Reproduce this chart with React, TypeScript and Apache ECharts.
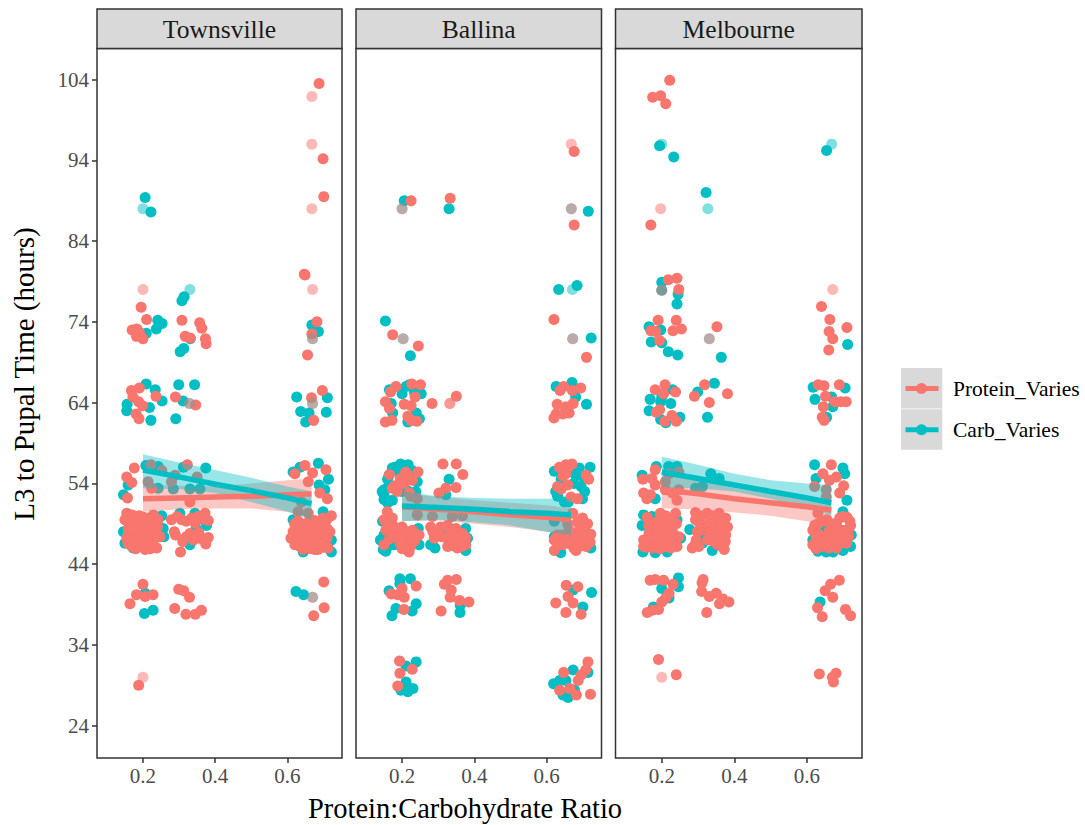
import React, { useEffect, useRef } from "react";
import * as echarts from "echarts";

type P = [number, number][];

const panelNames = ["Townsville", "Ballina", "Melbourne"];
const legendNames = ["Protein_Varies", "Carb_Varies"];
const yTicks = [24, 34, 44, 54, 64, 74, 84, 94, 104];
const xTicks = [0.2, 0.4, 0.6];
const fitX = [0.2, 0.3, 0.4, 0.5, 0.6, 0.667];

const townsvilleProtein: P = [
  [0.688,103.5],[0.699,94.2],[0.701,89.5],[0.649,79.8],[0.647,79.9],[0.195,75.8],[0.21,74.3],[0.308,74.2],[0.357,73.9],[0.363,73.2],[0.17,73],[0.183,73.1],[0.182,72.2],[0.2,71.9],[0.19,72.7],[0.317,72.2],[0.331,72],[0.373,71.9],[0.375,71.3],[0.682,74],[0.668,72.5],[0.656,69.9],
  [0.168,65.5],[0.19,65.8],[0.172,64.7],[0.188,64.1],[0.199,63.6],[0.236,64.8],[0.29,64.7],[0.346,63.7],[0.181,62.6],[0.189,62],[0.697,65.5],[0.667,64.6],[0.673,61.8],
  [0.176,55.9],[0.155,54.8],[0.169,54.1],[0.157,52.2],[0.323,56.3],[0.33,51.7],[0.649,56.2],[0.621,55.2],[0.67,55.3],[0.658,54.2],[0.707,55.7],[0.69,52.8],[0.711,52.1],[0.222,56.3],[0.252,55.6],[0.289,55],[0.279,54.2],[0.35,54.8],[0.214,54.2],[0.224,53.4],[0.639,51.7],[0.63,50.5],[0.658,50.3],
  [0.155,50.3],[0.15,49.5],[0.169,50.1],[0.201,49.8],[0.229,50.1],[0.242,49.5],[0.206,48.8],[0.159,48.4],[0.182,48.2],[0.224,48.4],[0.247,47.4],[0.164,47.4],[0.187,47.2],[0.219,47.2],[0.169,46.2],[0.206,45.8],[0.238,46],[0.192,46.4],[0.229,46.4],[0.215,48.2],[0.178,49.3],
  [0.165,49],[0.19,50],[0.215,49.7],[0.195,49],[0.222,49.2],[0.16,47.9],[0.172,48.5],[0.195,47.8],[0.205,47.5],[0.235,47.8],[0.24,48.6],[0.175,46.9],[0.2,46.7],[0.158,46.6],[0.18,45.9],[0.22,45.9],[0.212,46.8],[0.155,47.2],
  [0.279,49.5],[0.307,49.5],[0.335,49.7],[0.353,49.9],[0.372,50.3],[0.381,49.4],[0.287,48],[0.33,47.8],[0.349,47.4],[0.381,47.3],[0.31,46.8],[0.374,46.5],[0.304,45.5],
  [0.295,49.9],[0.32,49.3],[0.345,49.1],[0.365,49.6],[0.355,47.9],[0.363,47.1],[0.32,47.4],[0.29,47.6],[0.34,47],
  [0.63,49.3],[0.616,48],[0.644,48.8],[0.667,49],[0.699,49.7],[0.722,50],[0.709,49.5],[0.621,46.4],[0.653,46.4],[0.676,45.8],[0.718,48],[0.69,47.4],[0.658,47.4],[0.635,47.4],[0.69,46.2],[0.713,46],[0.644,45.8],[0.681,48.2],[0.653,48.4],[0.625,48.2],
  [0.62,49],[0.635,48.7],[0.655,49.1],[0.675,49.4],[0.69,49],[0.7,48.6],[0.71,48.4],[0.665,48],[0.64,47.9],[0.62,47.5],[0.67,47],[0.7,47.6],[0.71,47.2],[0.625,46.8],[0.635,46.2],[0.66,46.6],[0.665,45.9],[0.68,46.8],[0.7,46.1],[0.655,47.8],[0.61,47.2],[0.685,45.8],
  [0.2,41.5],[0.182,40.2],[0.206,40],[0.228,40.2],[0.164,39.1],[0.299,40.9],[0.313,40.7],[0.329,39.9],[0.288,38.5],[0.319,37.8],[0.345,37.8],[0.362,38.3],[0.701,41.8],[0.702,38.6],[0.673,37.6],[0.188,29],
];
const townsvilleCarb: P = [
  [0.206,89.4],[0.222,87.6],[0.314,77.1],[0.308,76.6],[0.241,74.2],[0.253,73.8],[0.237,73.1],[0.209,72.6],[0.331,71.9],[0.313,70.7],[0.303,70.3],[0.668,73.6],[0.686,72.8],
  [0.209,66.3],[0.234,65.6],[0.253,64.2],[0.218,63.4],[0.156,63.8],[0.155,63],[0.222,61.8],[0.299,66.2],[0.343,66.2],[0.311,64.2],[0.291,62],[0.626,64.7],[0.711,64.6],[0.708,62.8],[0.637,62.9],[0.66,62.7],[0.651,61.6],
  [0.146,52.6],[0.159,53.8],[0.242,56.1],[0.374,55.9],[0.312,56],[0.284,53.3],[0.33,53.3],[0.358,53.3],[0.686,56.5],[0.635,56],[0.616,55.4],[0.714,54.5],[0.688,53.8],[0.704,53.2],[0.208,56.2],[0.242,53.4],
  [0.252,50],[0.146,48],[0.256,48.4],[0.173,46],[0.15,46.6],[0.258,47.4],[0.302,50.3],[0.344,50.3],[0.376,48.8],[0.347,48.4],[0.33,46.4],[0.699,50.5],[0.616,49.5],[0.722,47],[0.722,45.5],[0.644,45.5],[0.681,48.8],
  [0.206,40.4],[0.204,37.9],[0.228,38.3],[0.624,40.6],[0.645,40.2],
];
const townsvilleProteinFaint: P = [[0.668,101.9],[0.668,96],[0.668,88],[0.2,78],[0.67,78],[0.67,71.9],[0.329,63.9],[0.67,63.9],[0.67,39.9],[0.2,30]];
const townsvilleCarbFaint: P = [[0.2,88],[0.33,78],[0.67,71.9],[0.329,63.9],[0.67,63.9],[0.67,39.9]];

const ballinaProtein: P = [
  [0.225,89],[0.333,89.3],[0.676,95.1],[0.676,86],[0.174,72.4],[0.245,71],[0.62,74.3],[0.71,69.6],
  [0.183,66],[0.168,65.3],[0.227,66.3],[0.251,66.2],[0.236,64.7],[0.154,64.1],[0.165,63.3],[0.206,63.8],[0.225,63.6],[0.216,62.3],[0.225,61.8],[0.241,61.7],[0.154,61.6],[0.172,61.8],[0.283,63.9],[0.35,64.8],
  [0.647,66],[0.637,65.5],[0.671,65.5],[0.694,65.8],[0.673,63.9],[0.629,63.8],[0.653,63.5],[0.662,62.7],[0.645,62.6],[0.626,62.6],[0.62,62.1],
  [0.165,55.1],[0.244,55.4],[0.215,55],[0.228,54.4],[0.206,54],[0.173,53.4],[0.187,53],[0.224,52.4],[0.242,52.1],[0.242,50.1],[0.284,49.9],[0.339,49.9],[0.367,50],
  [0.195,54.6],[0.18,53.7],[0.21,55.4],[0.22,52.8],[0.66,56],[0.645,54.9],[0.64,53.3],
  [0.313,56.4],[0.35,56.4],[0.368,55.1],[0.349,53.5],[0.321,53.4],[0.302,52.8],[0.653,56.3],[0.67,56.4],[0.635,56],[0.653,55.2],[0.658,53.8],[0.63,53.6],[0.667,52.3],[0.685,52.1],[0.709,55],[0.716,54.5],
  [0.159,50.5],[0.15,49.5],[0.173,49.7],[0.155,48.2],[0.169,47.8],[0.15,46.4],[0.192,48.2],[0.215,48],[0.233,47.6],[0.247,47.6],[0.2,47.2],[0.219,47],[0.206,46.4],[0.224,46.2],[0.219,45.5],[0.229,48.2],[0.187,47.2],
  [0.16,49],[0.175,48.8],[0.2,48.6],[0.21,47.6],[0.225,47.5],[0.195,46.6],[0.21,45.9],[0.2,45.9],[0.235,46.9],[0.175,47.5],[0.165,47.1],
  [0.279,48.6],[0.307,48.6],[0.326,48.8],[0.349,48.4],[0.289,47.2],[0.367,47.8],[0.376,47.2],[0.33,47],[0.326,46.2],[0.353,46],[0.376,46.4],[0.358,47],
  [0.295,47.9],[0.335,48],[0.31,47.4],[0.345,47.2],[0.355,46.6],[0.34,46.3],[0.365,46.2],[0.295,47.6],[0.285,48],
  [0.699,49.7],[0.713,49],[0.722,47.7],[0.69,48.2],[0.662,48.2],[0.644,47.6],[0.621,47],[0.653,47.2],[0.621,45.7],[0.644,46.4],[0.681,45.7],[0.709,46.2],[0.699,46.6],[0.672,50.3],[0.658,49],
  [0.63,47.6],[0.64,47],[0.665,47.6],[0.68,47.3],[0.7,47.5],[0.71,47.2],[0.63,46.3],[0.66,46.6],[0.69,46.2],[0.72,46.7],[0.705,48.4],[0.685,49.2],[0.675,46],
  [0.2,41],[0.239,41.3],[0.17,40.3],[0.188,40.2],[0.206,39.9],[0.205,38.4],[0.326,42],[0.35,42.1],[0.317,41.5],[0.336,40.8],[0.333,39.9],[0.359,39.5],[0.385,39.3],[0.308,38.2],[0.654,41.4],[0.686,41.2],[0.659,40],[0.673,39.2],[0.625,39.2],[0.653,38],[0.695,37.8],
  [0.193,32],[0.228,31],[0.194,30.5],[0.188,28.9],[0.714,31.9],[0.708,30.9],[0.696,30.3],[0.687,29.6],[0.647,30.6],[0.664,28.6],[0.636,28.4],[0.682,27.8],[0.721,27.9],
];
const ballinaCarb: P = [
  [0.206,89],[0.33,88],[0.715,87.7],[0.154,74.1],[0.223,69.8],[0.633,78],[0.684,78.5],[0.723,72],
  [0.165,65.6],[0.211,66],[0.2,65.1],[0.253,65.1],[0.17,63.9],[0.174,62.7],[0.239,62.7],[0.248,62],[0.216,61.6],[0.22,66.2],[0.234,65.3],[0.626,66],[0.67,66.5],[0.68,64.7],[0.71,63.8],
  [0.196,56.4],[0.173,55.9],[0.217,56.3],[0.164,55],[0.15,53.2],[0.15,52.6],[0.173,51.9],[0.242,54.2],[0.191,55.4],[0.228,55.6],[0.238,53],[0.164,53.8],[0.33,54.5],[0.321,52.6],
  [0.16,54.5],[0.18,56],[0.205,55.9],[0.2,53],[0.215,53.1],[0.15,52],[0.16,51.6],[0.145,53],
  [0.72,56],[0.621,55.5],[0.69,55.9],[0.695,53.6],[0.625,53],[0.699,52.1],[0.649,51.7],[0.621,49.3],
  [0.665,55.5],[0.68,55],[0.675,54],[0.7,54.8],[0.705,53],[0.64,54.5],[0.63,52.4],[0.66,51.7],
  [0.146,49.3],[0.15,47.6],[0.148,45.8],[0.178,46.4],[0.247,46.4],[0.192,47.8],[0.279,46.4],[0.291,46],[0.376,48.4],[0.381,47.2],[0.376,45.7],[0.321,47.6],[0.722,46],[0.639,45.4],[0.699,46.8],[0.672,46.8],[0.621,47.4],
  [0.14,47],[0.245,48.4],[0.16,46.2],[0.155,45.6],
  [0.194,42.2],[0.223,42.2],[0.164,40.7],[0.239,39.1],[0.228,38.2],[0.183,38.5],[0.172,37.6],[0.361,38.9],[0.36,38],[0.724,40.5],[0.7,38.7],[0.673,40.8],[0.194,41.6],
  [0.239,31.9],[0.211,31.4],[0.211,29.4],[0.23,28.6],[0.216,28.2],[0.197,28.4],[0.673,30.9],[0.714,30.6],[0.636,29.6],[0.619,29.2],[0.653,29.6],[0.677,28.4],[0.645,27.8],[0.659,27.5],
];
const ballinaProteinFaint: P = [[0.668,96],[0.2,88],[0.668,88],[0.203,71.9],[0.672,71.9],[0.332,63.9],[0.332,63.9]];
const ballinaCarbFaint: P = [[0.2,88],[0.668,88],[0.671,78],[0.203,71.9],[0.672,71.9]];

const melbourneProtein: P = [
  [0.222,103.9],[0.175,101.8],[0.197,102],[0.211,101],[0.17,86],[0.218,79.2],[0.242,79.4],[0.247,78],[0.2,77.9],
  [0.19,74.2],[0.24,74.2],[0.254,73.1],[0.231,72.9],[0.17,72.9],[0.183,72.8],[0.194,71.7],[0.352,73.4],[0.64,75.9],[0.663,74.3],[0.71,73.3],[0.661,72.8],[0.671,71.9],[0.66,70.5],
  [0.182,65.6],[0.209,66.2],[0.205,65.1],[0.238,65.3],[0.185,62.8],[0.194,63.1],[0.209,61.7],[0.228,62.4],[0.24,61.7],[0.318,66.2],[0.29,64.8],[0.381,65.1],[0.331,64],
  [0.631,66.2],[0.647,66.1],[0.689,66.2],[0.651,64.8],[0.645,63.5],[0.677,64.1],[0.693,64.1],[0.708,64.1],[0.642,62.2],[0.647,61.8],
  [0.182,55.7],[0.148,54.5],[0.173,54.6],[0.182,53.8],[0.15,52.8],[0.169,52.6],[0.159,52.1],[0.21,53.2],[0.229,52.8],[0.242,51.9],[0.219,55.2],[0.247,55.4],[0.21,54.2],[0.247,53.2],
  [0.667,56.3],[0.644,55.2],[0.681,54.8],[0.662,54.4],[0.701,53.7],[0.621,53.6],[0.69,52.8],[0.653,53.2],[0.653,52.3],
  [0.196,50.3],[0.238,50.3],[0.215,49.5],[0.164,48.8],[0.182,48.2],[0.206,48.8],[0.229,48.6],[0.247,47.4],[0.215,47.4],[0.169,47.2],[0.15,47],[0.15,46.2],[0.182,46.4],[0.21,46.2],[0.242,46.2],[0.229,48],
  [0.16,49.8],[0.175,49],[0.19,49.3],[0.21,50],[0.23,49.6],[0.2,47.8],[0.165,47.8],[0.18,47.5],[0.2,47],[0.225,47],[0.235,47.5],[0.16,46.1],[0.175,46],[0.195,45.9],[0.225,46],[0.215,48.7],[0.24,49],
  [0.293,50.4],[0.325,50.3],[0.358,50.3],[0.376,49.7],[0.293,49.5],[0.321,48.8],[0.349,49],[0.381,48.6],[0.298,48],[0.349,47.8],[0.376,47.6],[0.367,47],[0.326,47],[0.372,45.8],[0.302,46.2],[0.284,46],[0.353,46.4],
  [0.31,50],[0.34,50],[0.305,49],[0.335,49.3],[0.365,49.2],[0.33,48.4],[0.36,48.3],[0.31,48.2],[0.335,47.6],[0.355,47.1],[0.375,46.8],[0.36,46.3],[0.295,47],[0.365,48],[0.345,46.8],[0.29,46.3],
  [0.699,49.9],[0.718,49.3],[0.681,49],[0.644,49.3],[0.621,48.8],[0.616,48.2],[0.625,47.4],[0.616,46.4],[0.662,48.2],[0.699,48.2],[0.713,48.2],[0.653,47],[0.69,46.6],[0.709,46.6],[0.681,46],[0.63,50.3],
  [0.63,49],[0.655,49.5],[0.67,49],[0.69,49.7],[0.71,49.8],[0.63,47.8],[0.645,47.4],[0.67,47.7],[0.685,48],[0.635,46.9],[0.64,46.2],[0.665,46.8],[0.68,47],[0.7,47],[0.66,46],[0.625,45.9],[0.715,47.4],[0.72,48.8],
  [0.168,42],[0.182,42.1],[0.205,42],[0.231,41.5],[0.22,40.4],[0.211,39.8],[0.2,39.3],[0.191,38.4],[0.174,38.3],[0.16,38],[0.314,42.1],[0.311,41.7],[0.31,40.6],[0.331,40],[0.35,40.4],[0.359,39.1],[0.368,39.7],[0.385,39.3],[0.324,38],
  [0.689,42],[0.665,41.5],[0.65,40.7],[0.671,39.9],[0.629,38.6],[0.642,37.5],[0.706,38.4],[0.72,37.6],
  [0.191,32.2],[0.24,30.3],[0.634,30.4],[0.68,30.5],[0.67,30],[0.673,29.4],
];
const melbourneCarb: P = [
  [0.194,95.8],[0.233,94.4],[0.322,90],[0.654,95.2],[0.2,78.9],[0.245,77.4],[0.242,76.2],
  [0.165,73.4],[0.197,73],[0.171,71.5],[0.2,71.4],[0.218,70.3],[0.244,69.9],[0.364,69.6],[0.712,71.2],
  [0.23,65.6],[0.168,64.4],[0.197,64.1],[0.225,63.9],[0.165,63],[0.197,61.9],[0.25,62.2],[0.211,61.5],[0.345,66.4],[0.299,65.3],[0.326,62.2],[0.2,64.7],
  [0.617,65.9],[0.705,65.8],[0.622,64.4],[0.671,63.5],[0.654,62.2],[0.668,64.7],
  [0.185,56.1],[0.146,55],[0.219,56.1],[0.242,56.1],[0.335,55.2],[0.358,54.6],[0.312,53.6],[0.293,53.4],[0.182,52.1],
  [0.621,56.3],[0.699,55.9],[0.704,55.2],[0.625,54.6],[0.71,51.9],
  [0.15,50.1],[0.146,48.8],[0.173,49.9],[0.148,45.5],[0.182,45.4],[0.215,45.5],[0.252,47.2],[0.242,49.5],[0.277,48.3],[0.307,47.4],[0.339,45.7],[0.312,46.6],
  [0.616,47],[0.722,47.6],[0.653,45.5],[0.672,45.5],[0.699,45.7],[0.644,48.4],[0.699,50.5],[0.72,46.2],[0.63,45.6],
  [0.246,42.3],[0.246,41.2],[0.2,41],[0.177,38.7],[0.22,39.8],[0.636,39.3],
];
const melbourneProteinFaint: P = [[0.197,88],[0.671,78],[0.331,71.9],[0.2,30]];
const melbourneCarbFaint: P = [[0.2,96],[0.327,88],[0.668,96],[0.331,71.9],[0.2,77.9]];

const townsvilleProteinFit = [52.1, 52.2, 52.3, 52.4, 52.6, 52.7];
const townsvilleProteinLow = [50.5, 50.8, 50.9, 50.9, 50.5, 49.9];
const townsvilleProteinHigh = [53.8, 53.7, 53.6, 54, 54.4, 54.6];
const townsvilleCarbFit = [55.65, 54.8, 53.9, 53.1, 52.2, 51.5];
const townsvilleCarbLow = [53.4, 53.3, 52.8, 51.7, 50.5, 49.5];
const townsvilleCarbHigh = [57.6, 56.6, 55.65, 54.7, 53.6, 53];

const ballinaProteinFit = [51.1, 50.8, 50.5, 50.1, 49.8, 49.5];
const ballinaProteinLow = [49.3, 49.4, 49, 48.6, 48, 47.6];
const ballinaProteinHigh = [52.8, 52.3, 51.9, 51.6, 51.3, 50.9];
const ballinaCarbFit = [51.2, 51, 50.8, 50.5, 50.3, 50.1];
const ballinaCarbLow = [49.3, 49.5, 49.2, 48.8, 48, 47.6];
const ballinaCarbHigh = [53, 52.4, 52.2, 52.1, 52.1, 52.1];

const melbourneProteinFit = [53.2, 52.7, 52.1, 51.6, 51.1, 50.7];
const melbourneProteinLow = [50.9, 50.8, 50.4, 50, 49.3, 48.6];
const melbourneProteinHigh = [55, 54.4, 53.4, 52.8, 52.1, 51.7];
const melbourneCarbFit = [55.4, 54.6, 53.8, 53, 52.2, 51.6];
const melbourneCarbLow = [53.4, 53.4, 53, 52.1, 50.9, 50.1];
const melbourneCarbHigh = [57.3, 56.3, 55.2, 54.4, 54, 53.8];

const RED = "#F8766D";
const TEAL = "#00BFC4";
const FONT = "'Liberation Serif', serif";

const panels = [
  { left: 97, width: 245, pts: [townsvilleCarb, townsvilleProtein, townsvilleCarbFaint, townsvilleProteinFaint], pf: townsvilleProteinFit, pl: townsvilleProteinLow, ph: townsvilleProteinHigh, cf: townsvilleCarbFit, cl: townsvilleCarbLow, ch: townsvilleCarbHigh },
  { left: 356, width: 245.5, pts: [ballinaCarb, ballinaProtein, ballinaCarbFaint, ballinaProteinFaint], pf: ballinaProteinFit, pl: ballinaProteinLow, ph: ballinaProteinHigh, cf: ballinaCarbFit, cl: ballinaCarbLow, ch: ballinaCarbHigh },
  { left: 615.5, width: 246.5, pts: [melbourneCarb, melbourneProtein, melbourneCarbFaint, melbourneProteinFaint], pf: melbourneProteinFit, pl: melbourneProteinLow, ph: melbourneProteinHigh, cf: melbourneCarbFit, cl: melbourneCarbLow, ch: melbourneCarbHigh },
];

function ribbon(i: number, low: number[], high: number[], fill: string, z: number) {
  return {
    type: "custom", xAxisIndex: i, yAxisIndex: i, z, silent: true,
    data: fitX.map((x, k) => [x, low[k], high[k]]),
    encode: { x: 0, y: [1, 2] },
    renderItem: (params: any, api: any) => {
      if (params.dataIndex !== 0) return null;
      const up = fitX.map((x, k) => api.coord([x, high[k]]));
      const down = fitX.map((x, k) => api.coord([x, low[k]])).reverse();
      return { type: "polygon", shape: { points: [...up, ...down] }, style: { fill } };
    },
  };
}

function fitLine(i: number, fit: number[], color: string, z: number) {
  return {
    type: "line", xAxisIndex: i, yAxisIndex: i, z, silent: true, showSymbol: false,
    data: fitX.map((x, k) => [x, fit[k]]),
    lineStyle: { color, width: 5.5, cap: "butt" },
  };
}

function dots(i: number, data: P, color: string, opacity: number, z: number) {
  return {
    type: "scatter", xAxisIndex: i, yAxisIndex: i, z, silent: true, symbolSize: 11,
    data, itemStyle: { color, opacity },
  };
}

export default function App() {
  const ref = useRef<HTMLDivElement>(null);
  useEffect(() => {
    const chart = echarts.init(ref.current!, undefined, { renderer: "svg" });
    const series: any[] = [];
    panels.forEach((p, i) => {
      series.push(dots(i, p.pts[0], TEAL, 1, 2));
      series.push(dots(i, p.pts[1], RED, 1, 3));
      series.push(dots(i, p.pts[2], TEAL, 0.5, 4));
      series.push(dots(i, p.pts[3], RED, 0.5, 5));
      series.push(ribbon(i, p.pl, p.ph, "rgba(248,118,109,0.4)", 6));
      series.push(ribbon(i, p.cl, p.ch, "rgba(0,191,196,0.4)", 7));
      series.push(fitLine(i, p.pf, RED, 8));
      series.push(fitLine(i, p.cf, TEAL, 9));
    });
    const graphic: any[] = [];
    panels.forEach((p, i) => {
      graphic.push({ type: "rect", shape: { x: p.left, y: 9, width: p.width, height: 39.5 }, style: { fill: "#D9D9D9", stroke: "#333333", lineWidth: 1.5 } });
      graphic.push({ type: "text", x: p.left + p.width / 2, y: 29, style: { text: panelNames[i], font: `25.6px ${FONT}`, fill: "#1A1A1A", textAlign: "center", textVerticalAlign: "middle" } });
    });
    graphic.push({ type: "text", x: 465, y: 808, style: { text: "Protein:Carbohydrate Ratio", font: `28.5px ${FONT}`, fill: "#000", textAlign: "center", textVerticalAlign: "middle" } });
    graphic.push({ type: "text", x: 24, y: 374, rotation: Math.PI / 2, style: { text: "L3 to Pupal Time (hours)", font: `29px ${FONT}`, fill: "#000", textAlign: "center", textVerticalAlign: "middle" } });
    [RED, TEAL].forEach((c, i) => {
      const top = 368 + i * 41.3;
      const mid = top + 20.5;
      graphic.push({ type: "rect", shape: { x: 901, y: top, width: 41.3, height: 40.5 }, style: { fill: "#D9D9D9" } });
      graphic.push({ type: "line", shape: { x1: 905.5, y1: mid, x2: 938.5, y2: mid }, style: { stroke: c, lineWidth: 5 } });
      graphic.push({ type: "circle", shape: { cx: 921.5, cy: mid, r: 5.5 }, style: { fill: c } });
      graphic.push({ type: "text", x: 953, y: mid, style: { text: legendNames[i], font: `21.5px ${FONT}`, fill: "#000", textAlign: "left", textVerticalAlign: "middle" } });
    });
    chart.setOption({
      animation: false,
      backgroundColor: "#fff",
      grid: panels.map((p) => ({ left: p.left, width: p.width, top: 48.5, height: 709.5, show: true, backgroundColor: "#fff", borderColor: "#333333", borderWidth: 1.5 })),
      xAxis: panels.map((_, i) => ({
        gridIndex: i, type: "value", min: 0.0726, max: 0.7515, splitLine: { show: false },
        axisLine: { show: false },
        axisTick: { show: true, length: 5, customValues: xTicks, lineStyle: { color: "#333333", width: 1.5 } },
        axisLabel: { show: true, customValues: xTicks, margin: 7, fontFamily: FONT, fontSize: 21, color: "#4D4D4D", formatter: (v: number) => v.toFixed(1) },
      })),
      yAxis: panels.map((_, i) => ({
        gridIndex: i, type: "value", min: 20, max: 107.84, splitLine: { show: false },
        axisLine: { show: false },
        axisTick: { show: i === 0, length: 5, customValues: yTicks, lineStyle: { color: "#333333", width: 1.5 } },
        axisLabel: { show: i === 0, customValues: yTicks, margin: 8, fontFamily: FONT, fontSize: 21, color: "#4D4D4D" },
      })),
      series,
      graphic: { elements: graphic },
    });
    return () => chart.dispose();
  }, []);
  return <div ref={ref} style={{ position: "absolute", left: 0, top: 0, width: 1085, height: 825 }} />;
}
